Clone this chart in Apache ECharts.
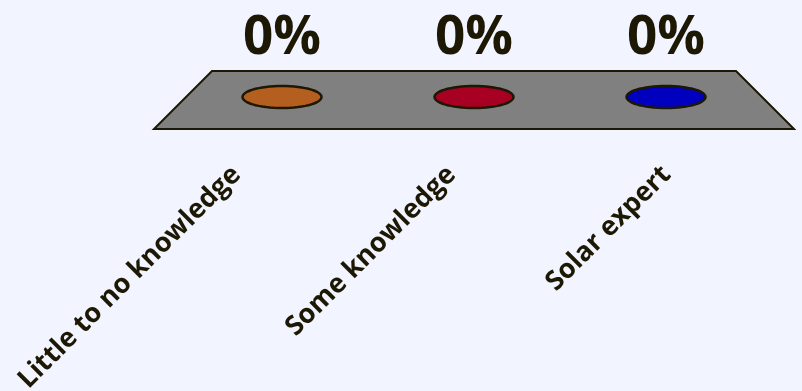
<!DOCTYPE html>
<html>
<head>
<meta charset="utf-8">
<script src="https://cdn.jsdelivr.net/npm/echarts@6/dist/echarts.min.js"></script>
<style>
html,body{margin:0;padding:0;background:#F2F5FF;}
#chart{width:802px;height:391px;}
</style>
</head>
<body>
<div id="chart"></div>
<script>
var categories = ['Little to no knowledge', 'Some knowledge', 'Solar expert'];
var values = [0, 0, 0];
var colors = ['#B45F20', '#A80022', '#0000BE'];

var FONT = 'Open Sans';
var INK = '#1d1803';

var chart = echarts.init(document.getElementById('chart'));

function ellipsePoints(cx, cy, rx, ry) {
  var pts = [];
  for (var i = 0; i < 60; i++) {
    var a = i / 60 * Math.PI * 2;
    pts.push([cx + rx * Math.cos(a), cy + ry * Math.sin(a)]);
  }
  return pts;
}

var option = {
  backgroundColor: '#F2F5FF',
  animation: false,
  grid: [
    {left: 186, width: 576, top: 20, height: 77},
    {left: 129, width: 645, top: 150, height: 10}
  ],
  xAxis: [
    {type: 'category', data: categories, gridIndex: 0, show: false},
    {type: 'category', data: categories, gridIndex: 1,
     axisLine: {show: false}, axisTick: {show: false}, splitLine: {show: false},
     axisLabel: {rotate: 45, interval: 0, margin: 18, fontFamily: FONT, fontWeight: 'bold', fontSize: 27, color: INK}}
  ],
  yAxis: [
    {type: 'value', min: 0, max: 100, gridIndex: 0, show: false},
    {type: 'value', min: 0, max: 1, gridIndex: 1, show: false}
  ],
  series: [
    {
      type: 'custom',
      xAxisIndex: 0, yAxisIndex: 0,
      silent: true,
      z: 1,
      data: [[0, 0]],
      renderItem: function (params, api) {
        var band = api.size([1, 0])[0];
        var l = api.coord([0, 0]);
        var r = api.coord([categories.length - 1, 0]);
        var xl = l[0] - band / 2, xr = r[0] + band / 2, y0 = l[1];
        var back = 26, front = 32;
        return {
          type: 'polygon',
          shape: {points: [
            [xl + back, y0 - back], [xr - back, y0 - back],
            [xr + front, y0 + front], [xl - front, y0 + front]
          ]},
          style: {fill: '#808080', stroke: '#1d1803', lineWidth: 2}
        };
      }
    },
    {
      type: 'custom',
      xAxisIndex: 0, yAxisIndex: 0,
      z: 2,
      data: values.map(function (v, i) { return [i, v]; }),
      renderItem: function (params, api) {
        var p = api.coord([api.value(0), api.value(1)]);
        var i = params.dataIndex;
        return {
          type: 'group',
          children: [
            {type: 'polygon', shape: {points: ellipsePoints(p[0], p[1], 39.5, 11)},
             style: {fill: colors[i], stroke: '#1d1803', lineWidth: 2.5}},
            {type: 'text', x: p[0], y: p[1] - 58,
             style: {text: Math.round(api.value(1)) + '%', fontFamily: FONT, fontWeight: 'bold', fontSize: 53,
                     fill: INK, align: 'center', verticalAlign: 'middle'}}
          ]
        };
      }
    }
  ]
};
chart.setOption(option);
</script>
</body>
</html>
